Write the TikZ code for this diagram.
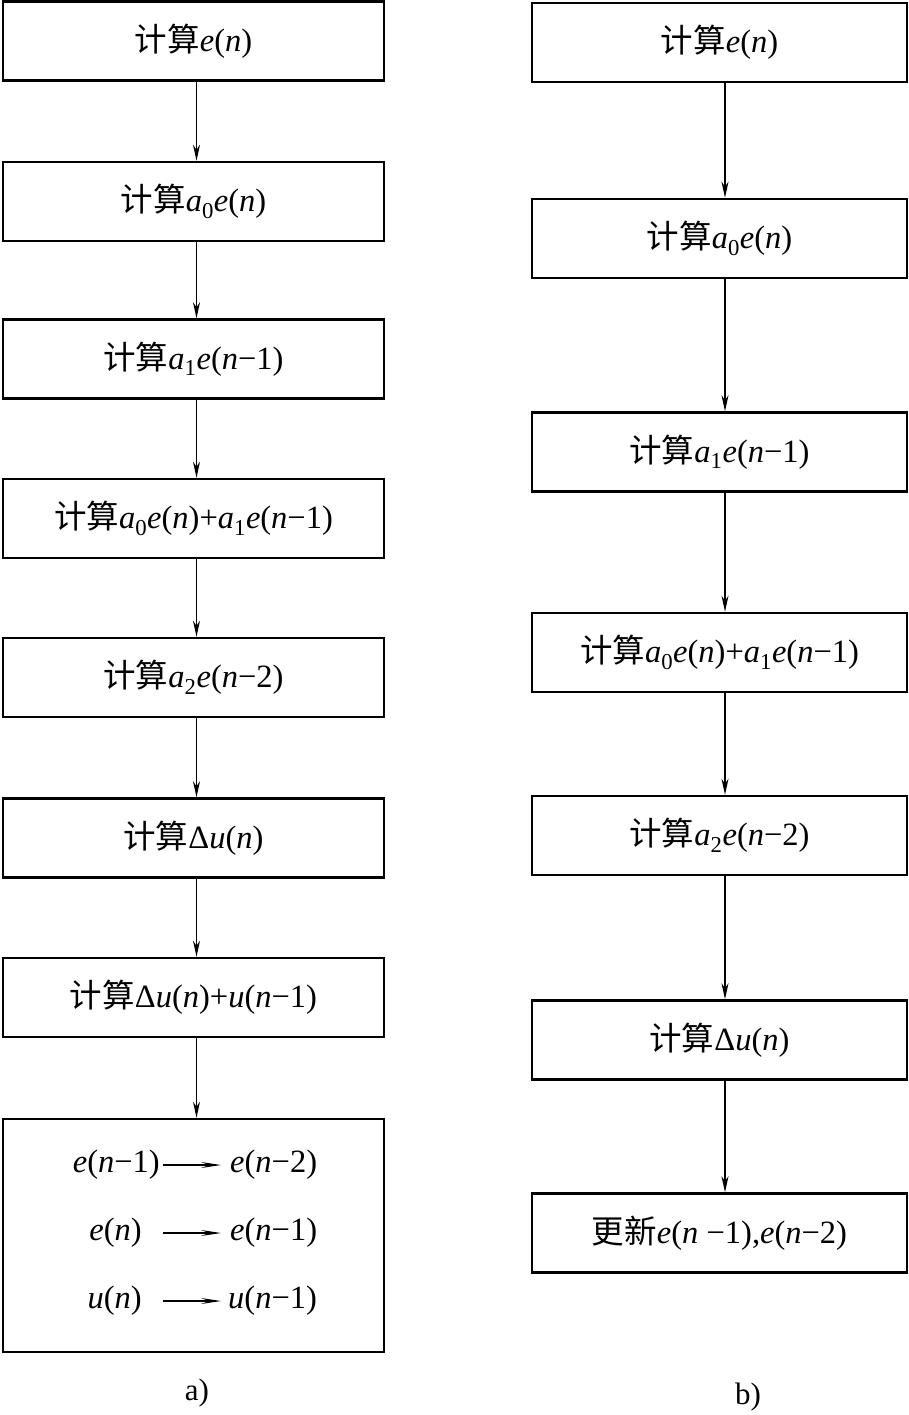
\documentclass[tikz,border=0pt]{standalone}
\usepackage{fontspec}
\setmainfont{Liberation Serif}
\newfontfamily\cjk{Noto Sans CJK SC}
\usetikzlibrary{arrows.meta}
\newcommand{\vv}[1]{\textit{#1}}
\newcommand{\sbs}[1]{\textsubscript{#1}}
\begin{document}
\begin{tikzpicture}[x=1pt,y=-1pt,
  box/.style={draw, line width=2.6pt, minimum width=381pt, minimum height=79pt, inner sep=0pt, font=\fontsize{32.5}{36}\selectfont},
  rbox/.style={box, minimum width=375pt},
  txt/.style={inner sep=0pt, font=\fontsize{32.5}{36}\selectfont},
  flow/.style={line width=1.2pt, -{Stealth[length=16pt,width=7pt,inset=5pt]}},
  movearrow/.style={line width=1.2pt, -{Stealth[length=20pt,width=6pt,inset=8pt]}},
  subcaption/.style={inner sep=0pt, font=\fontsize{31}{34}\selectfont}]
\useasboundingbox (0,0) rectangle (909,1415);
% left column
\node[box] (a1) at (193.5,41) {{\cjk 计算}\vv{e}(\vv{n})};
\node[box] (a2) at (193.5,201.5) {{\cjk 计算}\vv{a}\sbs{0}\vv{e}(\vv{n})};
\node[box] (a3) at (193.5,359) {{\cjk 计算}\vv{a}\sbs{1}\vv{e}(\vv{n}−1)};
\node[box] (a4) at (193.5,518.5) {{\cjk 计算}\vv{a}\sbs{0}\vv{e}(\vv{n})+\vv{a}\sbs{1}\vv{e}(\vv{n}−1)};
\node[box] (a5) at (193.5,677.5) {{\cjk 计算}\vv{a}\sbs{2}\vv{e}(\vv{n}−2)};
\node[box] (a6) at (193.5,838) {{\cjk 计算}Δ\vv{u}(\vv{n})};
\node[box] (a7) at (193.5,997.5) {{\cjk 计算}Δ\vv{u}(\vv{n})+\vv{u}(\vv{n}−1)};
\node[box, minimum height=233pt] (a8) at (193.5,1235.5) {};
\foreach \i/\j in {a1/a2,a2/a3,a3/a4,a4/a5,a5/a6,a6/a7,a7/a8}
  \draw[flow] ([xshift=3pt]\i.south) -- ([xshift=3pt]\j.north);
% contents of last box
\node[txt, anchor=east] (l1) at (160,1165) {\vv{e}(\vv{n}−1)};
\node[txt, anchor=west] (r1) at (230,1165) {\vv{e}(\vv{n}−2)};
\node[txt, anchor=east] (l2) at (142,1233) {\vv{e}(\vv{n})};
\node[txt, anchor=west] (r2) at (230,1233) {\vv{e}(\vv{n}−1)};
\node[txt, anchor=east] (l3) at (142,1301) {\vv{u}(\vv{n})};
\node[txt, anchor=west] (r3) at (228,1301) {\vv{u}(\vv{n}−1)};
\draw[movearrow, shorten <=3pt, shorten >=9pt] (l1.east) -- (r1.west);
\draw[movearrow, shorten <=21pt, shorten >=9pt] (l2.east) -- (r2.west);
\draw[movearrow, shorten <=21pt, shorten >=7pt] (l3.east) -- (r3.west);
\node[subcaption] (ca) at (197,1393) {a)};
% right column
\node[rbox] (b1) at (719.5,42.5) {{\cjk 计算}\vv{e}(\vv{n})};
\node[rbox] (b2) at (719.5,238.5) {{\cjk 计算}\vv{a}\sbs{0}\vv{e}(\vv{n})};
\node[rbox] (b3) at (719.5,452) {{\cjk 计算}\vv{a}\sbs{1}\vv{e}(\vv{n}−1)};
\node[rbox] (b4) at (719.5,652.5) {{\cjk 计算}\vv{a}\sbs{0}\vv{e}(\vv{n})+\vv{a}\sbs{1}\vv{e}(\vv{n}−1)};
\node[rbox] (b5) at (719.5,835.5) {{\cjk 计算}\vv{a}\sbs{2}\vv{e}(\vv{n}−2)};
\node[rbox] (b6) at (719.5,1040) {{\cjk 计算}Δ\vv{u}(\vv{n})};
\node[rbox] (b7) at (719.5,1233) {{\cjk 更新}\vv{e}(\vv{n} −1),\vv{e}(\vv{n}−2)};
\foreach \i/\j in {b1/b2,b2/b3,b3/b4,b4/b5,b5/b6,b6/b7}
  \draw[flow] ([xshift=5.5pt]\i.south) -- ([xshift=5.5pt]\j.north);
\node[subcaption] (cb) at (748,1397) {b)};
\end{tikzpicture}
\end{document}
